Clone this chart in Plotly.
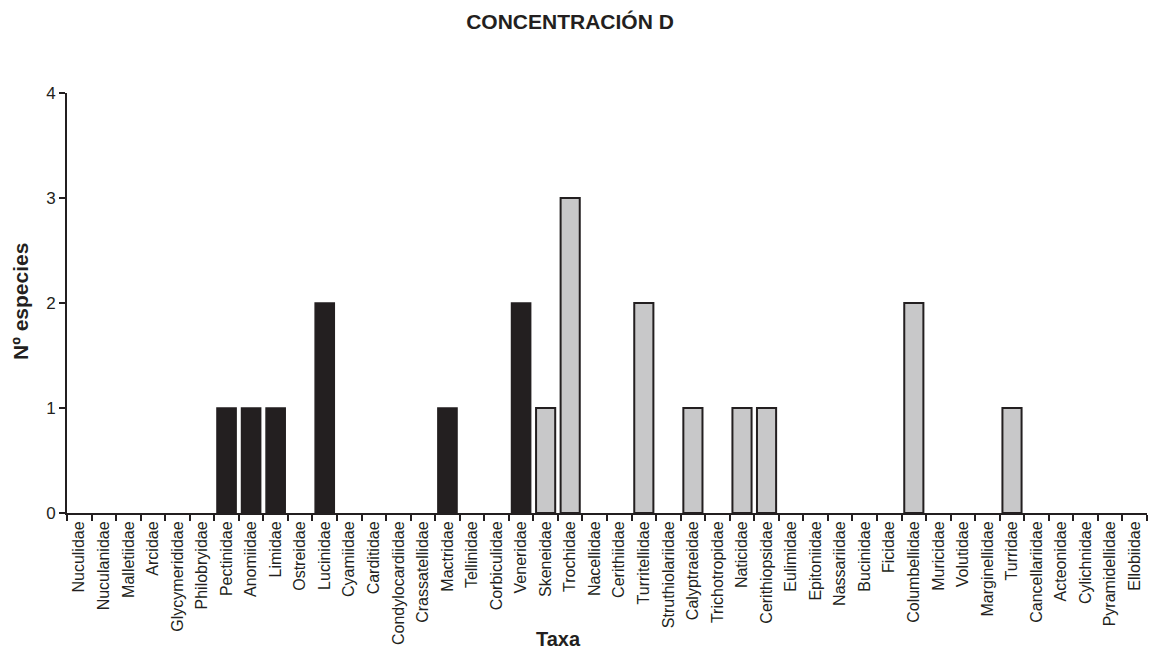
import plotly.graph_objects as go

# Bivalve families (black bars) and gastropod families (grey bars)
bivalvia = ["Nuculidae", "Nuculanidae", "Malletiidae", "Arcidae", "Glycymerididae",
            "Philobryidae", "Pectinidae", "Anomiidae", "Limidae", "Ostreidae",
            "Lucinidae", "Cyamiidae", "Carditidae", "Condylocardiidae",
            "Crassatellidae", "Mactridae", "Tellinidae", "Corbiculidae", "Veneridae"]
bivalvia_species = [0, 0, 0, 0, 0, 0, 1, 1, 1, 0, 2, 0, 0, 0, 0, 1, 0, 0, 2]

gastropoda = ["Skeneidae", "Trochidae", "Nacellidae", "Cerithiidae", "Turritellidae",
              "Struthiolariidae", "Calyptraeidae", "Trichotropidae", "Naticidae",
              "Cerithiopsidae", "Eulimidae", "Epitoniidae", "Nassariidae", "Bucinidae",
              "Ficidae", "Columbellidae", "Muricidae", "Volutidae", "Marginellidae",
              "Turridae", "Cancellariidae", "Acteonidae", "Cylichnidae",
              "Pyramidellidae", "Ellobiidae"]
gastropoda_species = [1, 3, 0, 0, 2, 0, 1, 0, 1, 1, 0, 0, 0, 0, 0, 2, 0, 0, 0,
                      1, 0, 0, 0, 0, 0]

y_ticks = [0, 1, 2, 3, 4]

ink = "#231f20"
categories = bivalvia + gastropoda


def outline(values, w):
    # no outline on empty bars, so nothing is drawn for families with zero species
    return [w if v > 0 else 0 for v in values]


fig = go.Figure()
fig.add_trace(go.Bar(x=bivalvia, y=bivalvia_species, width=0.78,
                     marker=dict(color=ink,
                                 line=dict(color=ink, width=outline(bivalvia_species, 1.5)))))
fig.add_trace(go.Bar(x=gastropoda, y=gastropoda_species, width=0.78,
                     marker=dict(color="#c8c8c9",
                                 line=dict(color=ink, width=outline(gastropoda_species, 2)))))

font = "Liberation Sans, Arial, sans-serif"
fig.update_layout(
    width=1150, height=653,
    margin=dict(l=67, r=3, t=93, b=140),
    paper_bgcolor="white", plot_bgcolor="white",
    showlegend=False, barmode="overlay",
    font=dict(family=font, color=ink),
    title=dict(text="<b>CONCENTRACIÓN D</b>", x=570 / 1150, xanchor="center",
               y=1 - 22 / 653, yanchor="middle", font=dict(size=21, color=ink)),
    xaxis=dict(categoryorder="array", categoryarray=categories,
               range=[-0.5, len(categories) - 0.5],
               showline=True, linecolor=ink, linewidth=2,
               ticks="outside", tickson="boundaries", ticklen=6,
               tickwidth=2, tickcolor=ink, tickangle=-90,
               tickfont=dict(size=16, color=ink), showgrid=False,
               automargin=False),
    yaxis=dict(range=[0, 4], tickvals=y_ticks, showline=True, linecolor=ink,
               linewidth=2, ticks="outside", ticklen=6, tickwidth=2,
               tickcolor=ink, tickfont=dict(size=17, color=ink),
               showgrid=False, zeroline=False, automargin=False),
    annotations=[
        dict(text="<b>Taxa</b>", xref="paper", yref="paper",
             x=(558 - 67) / 1080, y=-(639 - 513) / 420, xanchor="center",
             yanchor="middle", showarrow=False, font=dict(size=20, color=ink)),
        dict(text="<b>Nº especies</b>", xref="paper", yref="paper",
             x=(20 - 67) / 1080, y=(513 - 302) / 420, xanchor="center",
             yanchor="middle", textangle=-90, showarrow=False,
             font=dict(size=21, color=ink)),
    ],
)

fig.write_html("out.html")
